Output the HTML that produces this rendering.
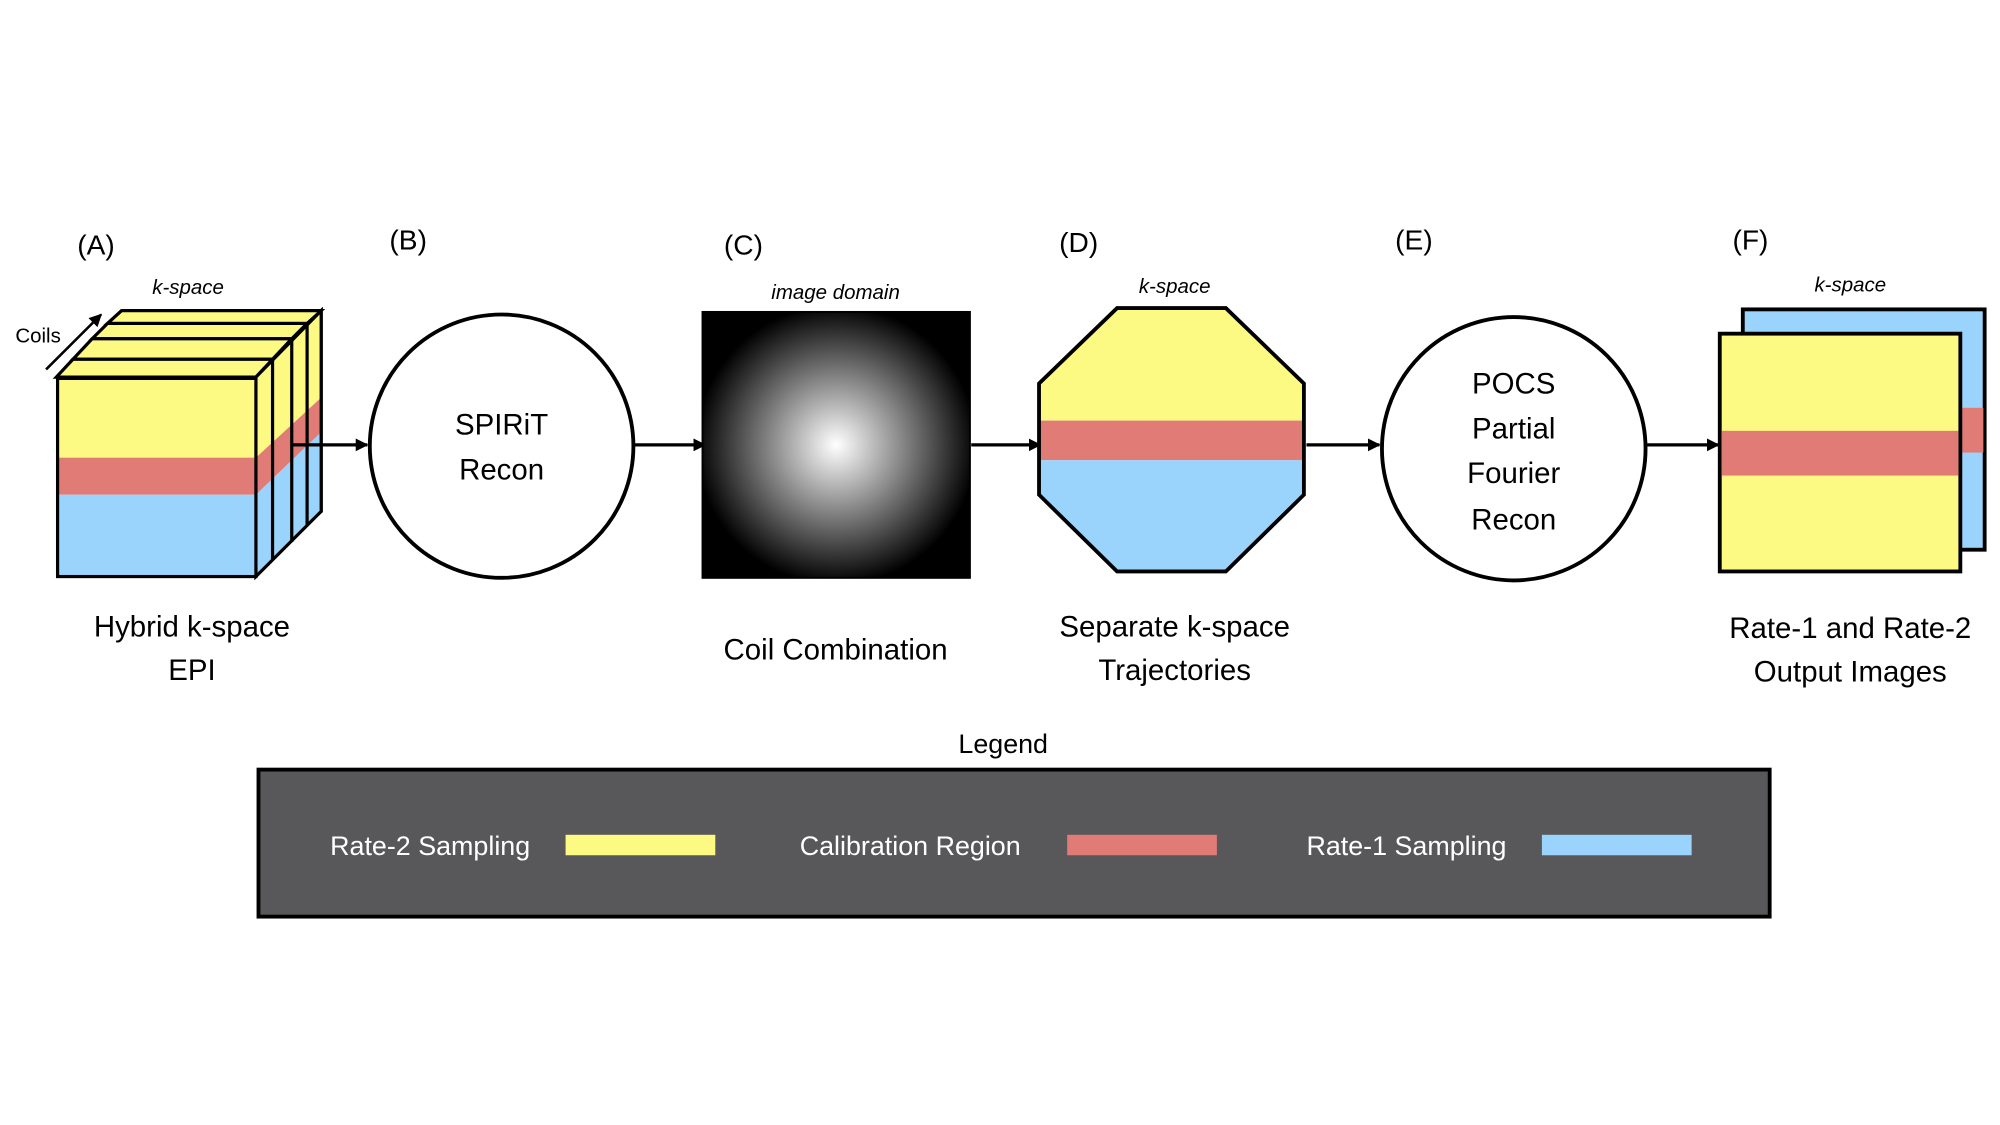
<!DOCTYPE html>
<html><head><meta charset="utf-8"><style>
html,body{margin:0;padding:0;background:#fff;}
svg{display:block;}
text{font-family:"Liberation Sans","DejaVu Sans",sans-serif;}
</style></head><body>
<svg width="2000" height="1125" viewBox="0 0 1563 880" preserveAspectRatio="none" xmlns="http://www.w3.org/2000/svg">
<defs>
<radialGradient id="rg" cx="50%" cy="50%" r="70%">
<stop offset="0" stop-color="#ffffff"/>
<stop offset="0.75" stop-color="#000000"/>
</radialGradient>
<marker id="ah" markerWidth="10" markerHeight="10" refX="9" refY="5" orient="auto" markerUnits="userSpaceOnUse">
<path d="M0,0 L10,5 L0,10 z" fill="#000"/>
</marker>
</defs>
<g fill="#000" font-size="22">
<text x="75" y="199" text-anchor="middle">(A)</text>
<text x="319" y="195" text-anchor="middle">(B)</text>
<text x="581" y="199" text-anchor="middle">(C)</text>
<text x="843" y="197" text-anchor="middle">(D)</text>
<text x="1105" y="195" text-anchor="middle">(E)</text>
<text x="1368" y="195" text-anchor="middle">(F)</text>
</g>
<g font-size="16" font-style="italic" fill="#000" text-anchor="middle">
<text x="147" y="230">k-space</text>
<text x="653" y="234">image domain</text>
<text x="918" y="229">k-space</text>
<text x="1446" y="228">k-space</text>
</g>
<text x="12" y="268" font-size="16">Coils</text>
<line x1="36" y1="289" x2="79" y2="246" stroke="#000" stroke-width="2" marker-end="url(#ah)"/>
<g stroke="#000" stroke-width="2.5" stroke-linejoin="miter">
<polygon points="251,243 251,400 240,410 240,253" fill="#9ad4fd"/>
<polygon points="95,243 251,243 240,253 84,253" fill="#fdfa83"/>
<polygon points="84,253 240,253 228,265 72,265" fill="#fdfa83"/>
<polygon points="72,265 228,265 213,281 57,281" fill="#fdfa83"/>
<polygon points="57,281 213,281 200,295 44,295" fill="#fdfa83"/>
</g>
<polygon points="200,295 251,243 251,311 200,358" fill="#fdfa83"/>
<polygon points="200,358 251,311 251,338 200,387" fill="#e07b76"/>
<polygon points="200,387 251,338 251,400 200,451" fill="#9ad4fd"/>
<g stroke="#000" stroke-width="2.5" fill="none">
<polygon points="200,295 251,243 251,400 200,451"/>
<line x1="213" y1="281" x2="213" y2="438"/>
<line x1="228" y1="265" x2="228" y2="424"/>
<line x1="240" y1="253" x2="240" y2="411"/>
</g>
<rect x="45" y="296" width="155" height="62" fill="#fdfa83"/>
<rect x="45" y="358" width="155" height="29" fill="#e07b76"/>
<rect x="45" y="387" width="155" height="64" fill="#9ad4fd"/>
<rect x="45" y="296" width="155" height="155" fill="none" stroke="#000" stroke-width="2.5"/>
<g stroke="#000" stroke-width="2.5" marker-end="url(#ah)">
<line x1="228" y1="348" x2="287" y2="348"/>
<line x1="496" y1="348" x2="551" y2="348"/>
<line x1="759" y1="348" x2="813" y2="348"/>
<line x1="1021" y1="348" x2="1078" y2="348"/>
<line x1="1286" y1="348" x2="1343" y2="348"/>
</g>
<circle cx="392" cy="349" r="103" fill="#fff" stroke="#000" stroke-width="3"/>
<text x="392" y="340" font-size="23" text-anchor="middle">SPIRiT</text>
<text x="392" y="375" font-size="23" text-anchor="middle">Recon</text>
<rect x="549" y="244" width="209" height="208" fill="url(#rg)" stroke="#000" stroke-width="1.5"/>
<clipPath id="oc"><polygon points="873,241 958,241 1019,300 1019,387 958,447 873,447 812,387 812,300"/></clipPath>
<g clip-path="url(#oc)">
<rect x="810" y="240" width="212" height="89" fill="#fdfa83"/>
<rect x="810" y="329" width="212" height="31" fill="#e07b76"/>
<rect x="810" y="360" width="212" height="90" fill="#9ad4fd"/>
</g>
<polygon points="873,241 958,241 1019,300 1019,387 958,447 873,447 812,387 812,300" fill="none" stroke="#000" stroke-width="3"/>
<circle cx="1183" cy="351" r="103" fill="#fff" stroke="#000" stroke-width="3"/>
<g font-size="23" text-anchor="middle">
<text x="1183" y="308">POCS</text>
<text x="1183" y="343">Partial</text>
<text x="1183" y="378">Fourier</text>
<text x="1183" y="414">Recon</text>
</g>
<rect x="1362" y="242" width="189" height="188" fill="#9ad4fd" stroke="#000" stroke-width="3"/>
<rect x="1532" y="319" width="18" height="35" fill="#e07b76"/>
<rect x="1344" y="261" width="188" height="186" fill="#fdfa83" stroke="#000" stroke-width="3"/>
<rect x="1345.5" y="337" width="185" height="35" fill="#e07b76"/>
<g font-size="23" text-anchor="middle" fill="#000">
<text x="150" y="498">Hybrid k-space</text>
<text x="150" y="532">EPI</text>
<text x="653" y="516">Coil Combination</text>
<text x="918" y="498">Separate k-space</text>
<text x="918" y="532">Trajectories</text>
<text x="1446" y="499">Rate-1 and Rate-2</text>
<text x="1446" y="533">Output Images</text>
<text x="784" y="589" font-size="21">Legend</text>
</g>
<rect x="202" y="602" width="1181" height="115" fill="#58585a" stroke="#000" stroke-width="3"/>
<g font-size="21" fill="#fff">
<text x="258" y="669">Rate-2 Sampling</text>
<text x="625" y="669">Calibration Region</text>
<text x="1021" y="669">Rate-1 Sampling</text>
</g>
<rect x="442" y="653" width="117" height="16" fill="#fdfa83"/>
<rect x="834" y="653" width="117" height="16" fill="#e07b76"/>
<rect x="1205" y="653" width="117" height="16" fill="#9ad4fd"/>
</svg>
</body></html>
